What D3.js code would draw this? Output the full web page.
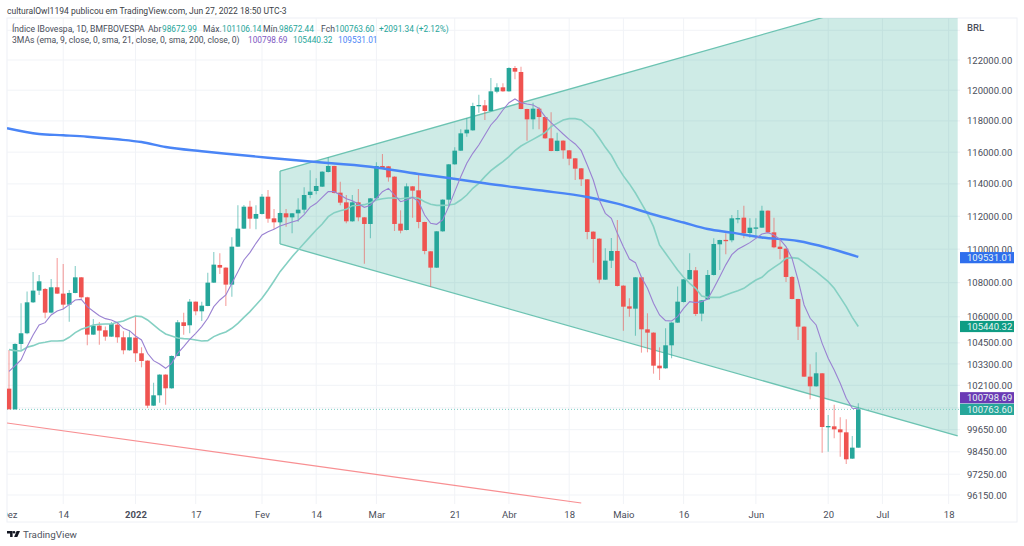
<!DOCTYPE html>
<html>
<head>
<meta charset="utf-8">
<script src="https://cdn.jsdelivr.net/npm/d3@7"></script>
<style>
	html, body { margin: 0; padding: 0; background: #fff; }
	svg { display: block; font-family: Roboto, "Noto Sans", sans-serif; }
	.tick-label { font-size: 9.5px; fill: #4a4e5a; }
</style>
</head>
<body>
<svg id="chart" width="1024" height="546"></svg>
<script>
const opens = [
	101914, 100768, 104437, 105050, 106845, 107532, 107630, 106244, 107728, 107355,
	106709, 107394, 108317, 107138, 104972, 105491, 105222, 104857, 105548, 104819,
	104076, 104800, 103905, 103488, 100970, 101543, 102699, 101933, 103753, 105683,
	105510, 106884, 106321, 106632, 108002, 109052, 108893, 107885, 110151, 111242,
	112587, 111850, 112139, 113205, 111872, 111628, 112179, 111933, 112179, 112403,
	113310, 113558, 113828, 114745, 115123, 113455, 112856, 111689, 112856, 111933,
	111526, 113103, 115123, 115102, 114452, 111546, 111160, 113848, 113600, 111648,
	109870, 108892, 111079, 113021, 115228, 116093, 117200, 117392, 119010, 119010,
	118641, 119904, 120189, 119926, 121467, 121202, 118771, 118101, 118793, 118252,
	116880, 116072, 116731, 116114, 115606, 114976, 114286, 111059, 110634, 108179,
	109309, 109890, 107825, 106611, 106475, 108318, 105277, 105086, 103204, 103054,
	104360, 105664, 106864, 108199, 108733, 106186, 107020, 108456, 110292, 110560,
	110535, 111860, 111913, 110977, 111290, 111302, 112342, 111018, 110150, 110030,
	108338, 107040, 105431, 102585, 102044, 102773, 99820, 99833, 99669, 99506,
	98083, 98672.99
];
const highs = [
	104095, 104480, 106787, 107473, 108634, 108456, 107680, 108218, 109470, 109111,
	107570, 108992, 108340, 107170, 105875, 105702, 105433, 105702, 105702, 105164,
	105203, 106087, 104248, 103510, 102249, 102720, 102720, 103780, 105817, 106244,
	107040, 106900, 106884, 108595, 109831, 109751, 108910, 110715, 112672, 112690,
	112957, 112672, 113372, 113620, 112445, 112220, 112445, 112200, 113103, 113786,
	114850, 114348, 114790, 115670, 115145, 114140, 113310, 113310, 113682, 111950,
	113125, 115354, 115880, 115125, 114475, 112363, 114036, 113870, 114558, 111670,
	109890, 111100, 113045, 115250, 116305, 117457, 118166, 119184, 119707, 119358,
	120804, 120452, 120452, 121510, 121600, 121555, 118795, 119184, 118880, 118275,
	118555, 117243, 116755, 116135, 115628, 115000, 114310, 111080, 110655, 110050,
	110674, 111770, 107850, 107079, 108340, 108340, 106204, 105110, 104245, 105335,
	105690, 107767, 108220, 109750, 108932, 106985, 108753, 110654, 110575, 110957,
	112077, 112383, 112650, 111872, 111872, 112650, 112365, 111913, 110654, 110050,
	108398, 107060, 105455, 103279, 103960, 102795, 100455, 101025, 100327, 100217,
	99307, 101106.14
];
const lows = [
	100768, 100740, 104095, 105000, 106800, 107277, 105914, 106200, 107330, 106438,
	105721, 107370, 107060, 104361, 104950, 104399, 104627, 104830, 104513, 103848,
	104050, 103412, 103111, 100840, 100950, 101136, 101025, 101910, 103730, 104972,
	105049, 106087, 105759, 106610, 107980, 108515, 106632, 107177, 110130, 111220,
	111242, 111201, 112110, 111608, 111221, 111600, 111363, 110958, 111668, 112179,
	113103, 113351, 113800, 114720, 113410, 112671, 111567, 111665, 111689, 109131,
	110654, 113080, 114955, 114140, 111100, 110958, 111135, 111913, 111262, 109690,
	107766, 108870, 111055, 112589, 115205, 116070, 116987, 117370, 118533, 118058,
	118620, 119795, 119905, 119905, 120716, 118750, 116730, 117457, 117457, 116860,
	116050, 116050, 115585, 115165, 114244, 113869, 110593, 109190, 107962, 108155,
	108872, 107780, 105201, 106010, 104913, 103941, 103960, 102753, 102398, 103030,
	103620, 105640, 106840, 108175, 106050, 105740, 107000, 108430, 108753, 109690,
	110412, 111567, 110654, 110694, 110654, 111280, 110957, 110050, 109389, 108041,
	107020, 104665, 102565, 101320, 102020, 98405, 98459, 99181, 98190, 97797,
	98060, 98672.44
];
const closes = [
	100768, 104437, 105050, 106845, 107532, 108081, 106244, 107728, 107355, 106709,
	107394, 108317, 107138, 104972, 105491, 105203, 104857, 105587, 104819, 104076,
	104819, 103905, 103469, 100970, 101543, 102699, 101933, 103753, 105683, 105471,
	106884, 106321, 106651, 108002, 109072, 108893, 107885, 110151, 111242, 112587,
	111850, 112139, 113205, 111850, 111628, 112199, 111933, 112179, 112403, 113310,
	113517, 113869, 114766, 115123, 113434, 112835, 111689, 112856, 111933, 111526,
	113103, 115123, 114976, 114411, 111526, 111120, 113848, 113579, 111648, 109890,
	108892, 111079, 113021, 115228, 116093, 117200, 117435, 118967, 119032, 118641,
	119926, 120189, 119926, 121467, 121224, 118771, 118101, 118793, 118252, 116880,
	116072, 116731, 116114, 115585, 114955, 114286, 111039, 110614, 108179, 109309,
	109890, 107805, 106591, 106475, 108318, 105277, 105086, 103204, 103054, 104360,
	105664, 106884, 108199, 108753, 106166, 106961, 108456, 110312, 110553, 110535,
	111872, 111885, 110957, 111302, 111315, 112342, 111018, 110110, 110010, 108338,
	107040, 105431, 102585, 102044, 102773, 99797, 99850, 99669, 99506, 98047,
	98675, 100763.6
];

// moving averages, one value per session
const ema9 = [
	102887, 103200, 103525, 104285, 104954, 105530, 105663, 106108, 106340, 106457,
	106709, 106981, 107020, 106593, 106321, 106068, 105895, 105817, 105663, 105337,
	105203, 104895, 104665, 103905, 103488, 103299, 103054, 103337, 103905, 104285,
	104703, 105049, 105433, 105914, 106593, 106981, 107277, 107962, 108654, 109349,
	109791, 110352, 110857, 111059, 111201, 111404, 111526, 111648, 111760, 112100,
	112560, 112794, 113165, 113517, 113517, 113310, 113082, 112959, 112753, 112548,
	112671, 113103, 113517, 113724, 113310, 112897, 113000, 113165, 112897, 112077,
	111567, 111506, 111770, 112589, 113517, 114452, 115291, 115924, 116454, 117093,
	117736, 118166, 118706, 119184, 119424, 119184, 119097, 119032, 118814, 118274,
	117886, 117521, 117157, 116816, 116518, 116093, 115186, 114244, 113000, 112179,
	111872, 110957, 110151, 109409, 109190, 108318, 107667, 106786, 106107, 105778,
	105759, 106010, 106494, 106884, 106825, 106884, 107040, 107667, 108358, 109059,
	109670, 109990, 110194, 110392, 110654, 110916, 110998, 110855, 110593, 110151,
	109449, 108159, 106690, 105914, 105528, 104473, 103620, 102960, 102212, 101376,
	100822, 100798.69
];
const sma21 = [
	104112, 104057, 104038, 104248, 104342, 104475, 104532, 104608, 104608, 104627,
	104819, 105087, 105279, 105394, 105529, 105568, 105587, 105587, 105683, 105759,
	105914, 106050, 106011, 105817, 105529, 105241, 105011, 104895, 104780, 104742,
	104723, 104665, 104608, 104627, 104857, 105011, 105126, 105337, 105625, 105972,
	106302, 106690, 107079, 107570, 108100, 108654, 109090, 109550, 109951, 110352,
	110755, 111160, 111526, 111975, 112220, 112342, 112424, 112650, 112671, 112712,
	112835, 113000, 113082, 113124, 113124, 113082, 113124, 113165, 113103, 112897,
	112733, 112671, 112671, 112692, 112753, 113000, 113310, 113724, 114036, 114452,
	114829, 115123, 115396, 115712, 116093, 116390, 116603, 116816, 117029, 117243,
	117629, 117843, 118058, 118144, 118144, 118058, 117736, 117414, 116880, 116305,
	115800, 115100, 114500, 114000, 113434, 112795, 112138, 111363, 110251, 109750,
	109250, 108753, 108318, 107962, 107667, 107215, 107137, 107137, 107137, 107274,
	107411, 107528, 107667, 107923, 108159, 108318, 108654, 108912, 109150, 109449,
	109489, 109449, 109190, 108912, 108654, 108358, 108060, 107667, 107137, 106591,
	105971, 105440.32
];
const sma200Days = [-0.33, 5, 9, 13, 18, 22, 26, 32, 37, 43, 50, 60, 68, 73, 79, 88, 96, 101, 107, 112, 116, 120, 125, 131, 136, 141];
const sma200 = [
	117529, 117158, 117075, 116985, 116818, 116645, 116326, 116059, 115868, 115646,
	115406, 115078, 114620, 114370, 114037, 113601, 113186, 112772, 112108, 111617,
	111221, 110996, 110705, 110493, 110071, 109531.01
];

// drawn trend lines: [session, price]
const channelUpper = [[45, 114807], [157.5, 127510]];
const channelLower = [[45, 110312], [157.5, 99307]];
const redLine = [[-0.33, 100016], [95, 95730]];

const yTicks = [122000, 120000, 118000, 116000, 114000, 112000, 110000, 108000, 106000, 104500, 103300, 102100, 99650, 98450, 97250, 96150];
const yGridOnly = [124000, 100850];
const xTickDays = [0, 9, 21, 31, 42, 51, 61, 74, 83, 93, 102, 112, 124, 136, 145, 156];
const xTickLabels = ["Dez", "14", "2022", "17", "Fev", "14", "Mar", "21", "Abr", "18", "Maio", "16", "Jun", "20", "Jul", "18"];

const priceTags = [
	{ value: 109531.01, color: "#2f6fed", offset: 0.7 },
	{ value: 105440.32, color: "#0f9c84", offset: 0 },
	{ value: 100798.69, color: "#6a3ab5", offset: -11 },
	{ value: 100763.6, color: "#26a69a", offset: 0 }
];

const green = "#26a69a";
const red = "#ef5350";
const pane = { left: 7, right: 960, top: 18, bottom: 504 };

const svg = d3.select("#chart");
const days = d3.range(closes.length);

const x = d3.scaleLinear().domain([0, 141]).range([9, 858.3]);
const y = d3.scaleLog().domain([96150, 122000]).range([495, 60]);

svg.append("defs")
	.append("clipPath")
	.attr("id", "pane")
	.append("rect")
	.attr("x", pane.left)
	.attr("y", pane.top)
	.attr("width", pane.right - pane.left)
	.attr("height", pane.bottom - pane.top);

svg.select("defs")
	.append("clipPath")
	.attr("id", "time-axis")
	.append("rect")
	.attr("x", pane.left)
	.attr("y", pane.bottom)
	.attr("width", pane.right - pane.left)
	.attr("height", 18);

// frame
svg.append("rect")
	.attr("x", pane.left)
	.attr("y", pane.top)
	.attr("width", 1017 - pane.left)
	.attr("height", 522 - pane.top)
	.attr("fill", "none")
	.attr("stroke", "#eef0f5");

const plot = svg.append("g").attr("clip-path", "url(#pane)");

// grid
plot.selectAll(".h-grid")
	.data(yTicks.concat(yGridOnly))
	.enter()
	.append("line")
	.attr("class", "h-grid")
	.attr("x1", pane.left)
	.attr("x2", pane.right)
	.attr("y1", d => y(d))
	.attr("y2", d => y(d))
	.attr("stroke", "#f1f3f7");

plot.selectAll(".v-grid")
	.data(xTickDays.slice(1))
	.enter()
	.append("line")
	.attr("class", "v-grid")
	.attr("x1", d => x(d))
	.attr("x2", d => x(d))
	.attr("y1", pane.top)
	.attr("y2", pane.bottom)
	.attr("stroke", "#f1f3f7");

// channel
const toPoint = d => [x(d[0]), y(d[1])];
const channelPoints = channelUpper.map(toPoint).concat(channelLower.map(toPoint).reverse());

plot.append("polygon")
	.attr("points", channelPoints.join(" "))
	.attr("fill", "#22a68c")
	.attr("fill-opacity", 0.22);

plot.append("path")
	.attr("d", d3.line()([toPoint(channelUpper[0]), toPoint(channelLower[0])]))
	.attr("stroke", "#6cc3b2")
	.attr("stroke-width", 1.3)
	.attr("fill", "none");

[channelUpper, channelLower].forEach(l => {
	plot.append("path")
		.attr("d", d3.line()(l.map(toPoint)))
		.attr("stroke", "#6cc3b2")
		.attr("stroke-width", 1.3)
		.attr("fill", "none");
});

plot.append("path")
	.attr("d", d3.line()(redLine.map(toPoint)))
	.attr("stroke", "#f88f92")
	.attr("stroke-width", 1.2)
	.attr("fill", "none");

// last price line
plot.append("line")
	.attr("x1", pane.left)
	.attr("x2", pane.right)
	.attr("y1", y(100763.6))
	.attr("y2", y(100763.6))
	.attr("stroke", "#7fcfc4")
	.attr("stroke-dasharray", "1 2");

// candles
const isUp = i => closes[i] >= opens[i];

plot.selectAll(".wick")
	.data(days)
	.enter()
	.append("line")
	.attr("class", "wick")
	.attr("x1", i => x(i))
	.attr("x2", i => x(i))
	.attr("y1", i => y(highs[i]))
	.attr("y2", i => y(lows[i]))
	.attr("stroke", i => (isUp(i) ? green : red))
	.attr("stroke-opacity", 0.55)
	.attr("stroke-width", 1.1);

plot.selectAll(".body")
	.data(days)
	.enter()
	.append("rect")
	.attr("class", "body")
	.attr("x", i => x(i) - 2.3)
	.attr("width", 4.6)
	.attr("y", i => y(Math.max(opens[i], closes[i])))
	.attr("height", i => Math.max(1.3, Math.abs(y(opens[i]) - y(closes[i]))))
	.attr("fill", i => (isUp(i) ? green : red));

// moving averages
const maLine = d3.line().x(d => x(d[0])).y(d => y(d[1]));

plot.append("path")
	.attr("d", maLine(d3.zip(days, sma21)))
	.attr("fill", "none")
	.attr("stroke", "#85d0c3")
	.attr("stroke-width", 1.6);

plot.append("path")
	.attr("d", maLine.curve(d3.curveMonotoneX)(d3.zip(sma200Days, sma200)))
	.attr("fill", "none")
	.attr("stroke", "#4a85f6")
	.attr("stroke-width", 2.4);

plot.append("path")
	.attr("d", maLine.curve(d3.curveLinear)(d3.zip(days, ema9)))
	.attr("fill", "none")
	.attr("stroke", "#9a82d2")
	.attr("stroke-width", 1.1);

// price axis
const yAxis = svg.append("g")
	.attr("transform", "translate(967,0)")
	.call(d3.axisRight(y).tickValues(yTicks).tickFormat(d3.format(".2f")).tickSize(0).tickPadding(0));

yAxis.select(".domain").remove();
yAxis.selectAll("text").attr("class", "tick-label").attr("fill", null);
yAxis.attr("font-family", null).attr("font-size", null);

svg.append("text")
	.attr("class", "tick-label")
	.attr("x", 967)
	.attr("y", 30.5)
	.style("font-weight", 500)
	.text("BRL");

// time axis
const xAxis = svg.append("g")
	.attr("clip-path", "url(#time-axis)")
	.append("g")
	.attr("transform", `translate(0,${pane.bottom})`)
	.call(d3.axisBottom(x).tickValues(xTickDays).tickFormat((d, i) => xTickLabels[i]).tickSize(0).tickPadding(7));

xAxis.select(".domain").remove();
xAxis.attr("font-family", null).attr("font-size", null);
xAxis.selectAll("text")
	.attr("class", "tick-label")
	.attr("fill", null)
	.style("font-weight", d => (d === 21 ? 700 : 400));

// last value tags
const tags = svg.selectAll(".tag").data(priceTags).enter().append("g").attr("class", "tag");

tags.append("rect")
	.attr("x", pane.right)
	.attr("width", 54)
	.attr("y", d => y(d.value) + d.offset - 5.6)
	.attr("height", 11.2)
	.attr("fill", d => d.color);

tags.append("text")
	.attr("x", 967)
	.attr("y", d => y(d.value) + d.offset + 3.3)
	.attr("fill", "#e8f4f2")
	.style("font-size", "9.5px")
	.text(d => d3.format(".2f")(d.value));

// header and legend
svg.append("text")
	.attr("x", 7)
	.attr("y", 13.5)
	.attr("fill", "#3c3f48")
	.style("font-size", "8.55px")
	.text("culturalOwl1194 publicou em TradingView.com, Jun 27, 2022 18:50 UTC-3");

const legendRows = [
	{
		y: 31.5,
		parts: [
			["Índice IBovespa, 1D, BMFBOVESPA", "#4a4e5a", 12],
			["Abr", "#4a4e5a", 148],
			["98672.99", green, 162],
			["Máx.", "#4a4e5a", 203],
			["101106.14", green, 222],
			["Mín.", "#4a4e5a", 263],
			["98672.44", green, 279],
			["Fch", "#4a4e5a", 321],
			["100763.60", green, 335],
			["+2091.34 (+2.12%)", green, 379]
		]
	},
	{
		y: 43,
		parts: [
			["3MAs (ema, 9, close, 0, sma, 21, close, 0, sma, 200, close, 0)", "#4a4e5a", 12],
			["100798.69", "#7e57c2", 248],
			["105440.32", green, 293],
			["109531.01", "#4a85f6", 338]
		]
	}
];

// the numbers sit a little wider than the labels in the legend
const isNumber = s => /^\+?\d+[.,]/.test(s);

legendRows.forEach(row => {
	svg.selectAll(null)
		.data(row.parts)
		.enter()
		.append("text")
		.attr("x", d => d[2])
		.attr("y", row.y)
		.attr("fill", d => d[1])
		.style("font-size", d => (isNumber(d[0]) ? "8.3px" : "8.6px"))
		.text(d => d[0]);
});

// footer
const logo = svg.append("g").attr("fill", "#131722");
logo.append("path").attr("d", "M7 531h5.6v6h-2.5v-3.6H7z");
logo.append("circle").attr("cx", 14).attr("cy", 532.3).attr("r", 1.3);
logo.append("path").attr("d", "M16.6 531h3.4l-2.7 6h-3.2z");

svg.append("text")
	.attr("x", 23)
	.attr("y", 538)
	.attr("fill", "#50535e")
	.style("font-size", "9.8px")
	.text("TradingView");
</script>
</body>
</html>
